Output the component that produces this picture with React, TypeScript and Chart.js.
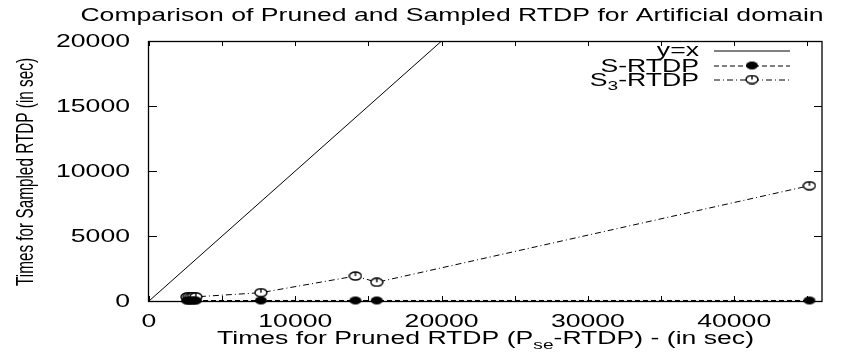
import { useEffect, useRef } from 'react';
import { Chart, registerables } from 'chart.js';

Chart.register(...registerables);

// ---- data ----
const chartTitle = 'Comparison of Pruned and Sampled RTDP for Artificial domain';
const yAxisTitle = 'Times for Sampled RTDP (in sec)';
const xMin = 0;
const xMax = 46000;
const yMin = 0;
const yMax = 20000;
const xTickValues = [0, 5000, 10000, 15000, 20000, 25000, 30000, 35000, 40000, 45000];
const xLabelValues = [0, 10000, 20000, 30000, 40000];
const xLabelTexts = ['0', '10000', '20000', '30000', '40000'];
const yTickValues = [0, 5000, 10000, 15000, 20000];
const yLabelTexts = ['0', '5000', '10000', '15000', '20000'];

// y = x reference line
const identityValues = [0, 46000];
// pruned RTDP times (x) shared by both sampled series
const prunedTimes = [2600, 2750, 2900, 3050, 3200, 7650, 14110, 15570, 45140];
const sRtdpTimes = [30, 35, 30, 40, 35, 40, 40, 40, 40];
const s3RtdpTimes = [310, 330, 300, 340, 320, 640, 1920, 1440, 8870];

const FONT = '"Liberation Sans", Arial, sans-serif';
const FS = 17.5;
const SX = 1.52;

function makeMarker(filled: boolean): HTMLCanvasElement {
  const c = document.createElement('canvas');
  c.width = 14;
  c.height = 10;
  const g = c.getContext('2d')!;
  g.beginPath();
  g.ellipse(7, 5, 6, 4, 0, 0, Math.PI * 2);
  if (filled) {
    g.fillStyle = '#000';
    g.fill();
  } else {
    g.fillStyle = '#fff';
    g.fill();
    g.strokeStyle = '#000';
    g.lineWidth = 1.4;
    g.stroke();
    g.beginPath();
    g.moveTo(7, 1);
    g.lineTo(7, 5);
    g.stroke();
  }
  return c;
}

function measure(ctx: CanvasRenderingContext2D, s: string, size: number, sx: number) {
  ctx.save();
  ctx.font = `${size}px ${FONT}`;
  const w = ctx.measureText(s).width * sx;
  ctx.restore();
  return w;
}

function txt(
  ctx: CanvasRenderingContext2D,
  s: string,
  x: number,
  y: number,
  size: number,
  sx: number,
  align: CanvasTextAlign
) {
  ctx.save();
  ctx.font = `${size}px ${FONT}`;
  ctx.fillStyle = '#000';
  ctx.textAlign = align;
  ctx.textBaseline = 'alphabetic';
  ctx.translate(x, y);
  ctx.scale(sx, 1);
  ctx.fillText(s, 0, 0);
  ctx.restore();
}

// parts: [text, isSubscript]
function richText(ctx: CanvasRenderingContext2D, parts: [string, boolean][], x: number, y: number, align: 'left' | 'center' | 'right') {
  const subSize = FS * 0.72;
  const widths = parts.map(([s, sub]) => measure(ctx, s, sub ? subSize : FS, SX));
  const total = widths.reduce((a, b) => a + b, 0);
  let cx = align === 'left' ? x : align === 'center' ? x - total / 2 : x - total;
  parts.forEach(([s, sub], i) => {
    txt(ctx, s, cx, sub ? y + 4.5 : y, sub ? subSize : FS, SX, 'left');
    cx += widths[i];
  });
}

export default function App() {
  const ref = useRef<HTMLCanvasElement | null>(null);

  useEffect(() => {
    if (!ref.current) return;
    const filledImg = makeMarker(true);
    const openImg = makeMarker(false);

    const framePlugin = {
      id: 'gnuplotFrame',
      beforeDatasetsDraw(chart: any) {
        const ctx: CanvasRenderingContext2D = chart.ctx;
        const { left, right, top, bottom } = chart.chartArea;
        const xs = chart.scales.x;
        const ys = chart.scales.y;
        ctx.save();
        ctx.strokeStyle = '#000';
        ctx.lineWidth = 1;
        ctx.beginPath();
        xTickValues.forEach((v) => {
          const px = Math.round(xs.getPixelForValue(v)) + 0.5;
          ctx.moveTo(px, bottom);
          ctx.lineTo(px, bottom - 5);
          ctx.moveTo(px, top);
          ctx.lineTo(px, top + 5);
        });
        yTickValues.forEach((v) => {
          const py = Math.round(ys.getPixelForValue(v)) + 0.5;
          ctx.moveTo(left, py);
          ctx.lineTo(left + 8, py);
          ctx.moveTo(right, py);
          ctx.lineTo(right - 8, py);
        });
        ctx.stroke();
        ctx.lineWidth = 1.3;
        ctx.strokeRect(Math.round(left) - 0.5, Math.round(top) + 0.5, Math.round(right - left) + 0.5, Math.round(bottom - top));
        ctx.restore();
      },
      afterDraw(chart: any) {
        const ctx: CanvasRenderingContext2D = chart.ctx;
        const { left, right, top, bottom } = chart.chartArea;
        const xs = chart.scales.x;
        const ys = chart.scales.y;
        // title
        txt(ctx, chartTitle, 452, 21, FS, SX, 'center');
        // tick labels
        xLabelValues.forEach((v, i) => {
          txt(ctx, xLabelTexts[i], xs.getPixelForValue(v), bottom + 25.5, FS, SX, 'center');
        });
        yTickValues.forEach((v, i) => {
          txt(ctx, yLabelTexts[i], left - 19, ys.getPixelForValue(v) + 6.3, FS, SX, 'right');
        });
        // x title
        richText(
          ctx,
          [
            ['Times for Pruned RTDP (P', false],
            ['se', true],
            ['-RTDP) - (in sec)', false],
          ],
          (left + right) / 2,
          bottom + 43,
          'center'
        );
        // y title
        ctx.save();
        ctx.font = `${FS}px ${FONT}`;
        ctx.fillStyle = '#000';
        ctx.textAlign = 'center';
        ctx.textBaseline = 'alphabetic';
        ctx.translate(33, (top + bottom) / 2 + 1);
        ctx.rotate(-Math.PI / 2);
        ctx.scale(0.875, 1.4);
        ctx.fillText(yAxisTitle, 0, 0);
        ctx.restore();

        // legend
        const textRight = 699;
        const sx0 = 714;
        const sx1 = 790;
        const rows = [50.5, 65.5, 79.5];
        txt(ctx, 'y=x', textRight, rows[0] + 5.5, FS, SX, 'right');
        richText(ctx, [['S-RTDP', false]], textRight, rows[1] + 6.2, 'right');
        richText(ctx, [['S', false], ['3', true], ['-RTDP', false]], textRight, rows[2] + 6.2, 'right');
        ctx.save();
        ctx.strokeStyle = '#000';
        ctx.lineWidth = 1;
        ctx.beginPath();
        ctx.moveTo(sx0, rows[0] + 0.5);
        ctx.lineTo(sx1, rows[0] + 0.5);
        ctx.stroke();
        ctx.setLineDash([5, 3]);
        ctx.beginPath();
        ctx.moveTo(sx0, rows[1] + 0.5);
        ctx.lineTo(sx1, rows[1] + 0.5);
        ctx.stroke();
        ctx.setLineDash([6, 3, 1, 3]);
        ctx.beginPath();
        ctx.moveTo(sx0, rows[2] + 0.5);
        ctx.lineTo(sx1, rows[2] + 0.5);
        ctx.stroke();
        ctx.setLineDash([]);
        const mx = (sx0 + sx1) / 2;
        ctx.drawImage(filledImg, mx - 7, rows[1] - 5);
        ctx.drawImage(openImg, mx - 7, rows[2] - 5);
        ctx.restore();
      },
    };

    const chart = new Chart(ref.current, {
      type: 'scatter',
      data: {
        datasets: [
          {
            label: 'y=x',
            data: identityValues.map((v) => ({ x: v, y: v })),
            showLine: true,
            borderColor: '#000',
            borderWidth: 1,
            pointRadius: 0,
            clip: 0,
          } as any,
          {
            label: 'S-RTDP',
            data: prunedTimes.map((x, i) => ({ x, y: sRtdpTimes[i] })),
            showLine: true,
            borderColor: '#000',
            borderWidth: 1,
            borderDash: [5, 3],
            pointStyle: filledImg,
            pointRadius: 6,
            clip: 10,
          },
          {
            label: 'S3-RTDP',
            data: prunedTimes.map((x, i) => ({ x, y: s3RtdpTimes[i] })),
            showLine: true,
            borderColor: '#000',
            borderWidth: 1,
            borderDash: [6, 3, 1, 3],
            pointStyle: openImg,
            pointRadius: 6,
            clip: 10,
          },
        ],
      },
      options: {
        responsive: false,
        animation: false,
        devicePixelRatio: 1,
        layout: { padding: { left: 149, top: 41, right: 39, bottom: 53 } },
        scales: {
          x: { type: 'linear', display: false, min: xMin, max: xMax },
          y: { type: 'linear', display: false, min: yMin, max: yMax },
        },
        plugins: {
          legend: { display: false },
          tooltip: { enabled: false },
        },
        events: [],
      },
      plugins: [framePlugin],
    });
    return () => chart.destroy();
  }, []);

  return (
    <div style={{ position: 'absolute', left: 0, top: 0, width: 861, height: 354, background: '#fff' }}>
      <canvas ref={ref} width={861} height={354} style={{ display: 'block', width: 861, height: 354 }} />
    </div>
  );
}
